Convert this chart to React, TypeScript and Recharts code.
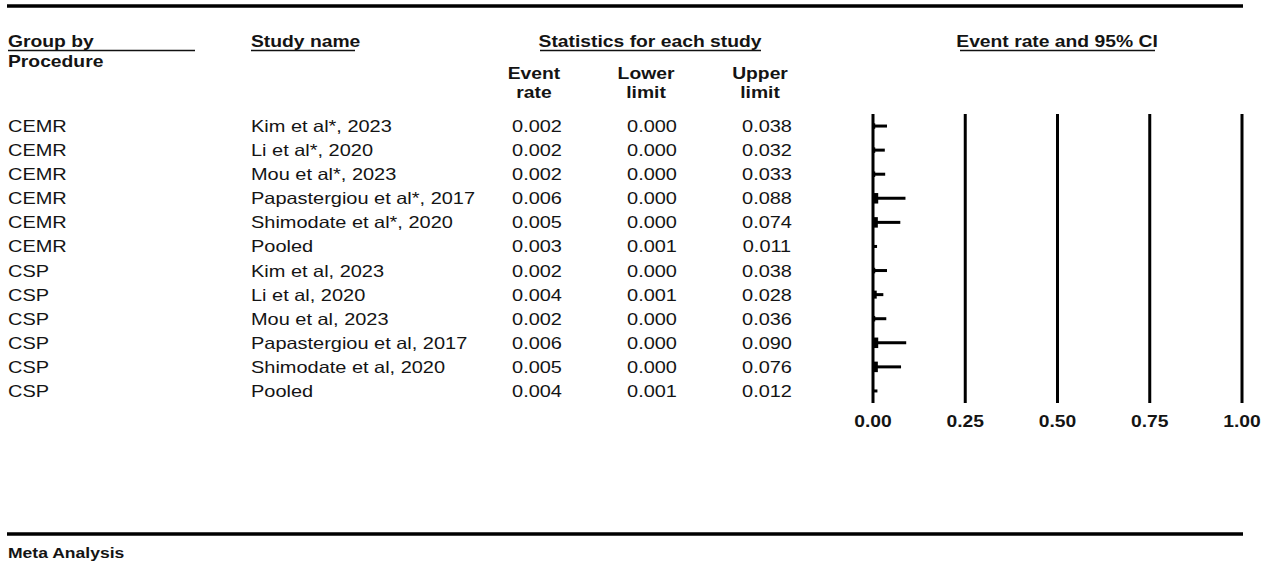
import React from "react";
import { ScatterChart, XAxis, YAxis, Scatter, ReferenceLine } from "recharts";

const groups = ["CEMR", "CEMR", "CEMR", "CEMR", "CEMR", "CEMR", "CSP", "CSP", "CSP", "CSP", "CSP", "CSP"];
const studies = [
  "Kim et al*, 2023",
  "Li et al*, 2020",
  "Mou et al*, 2023",
  "Papastergiou et al*, 2017",
  "Shimodate et al*, 2020",
  "Pooled",
  "Kim et al, 2023",
  "Li et al, 2020",
  "Mou et al, 2023",
  "Papastergiou et al, 2017",
  "Shimodate et al, 2020",
  "Pooled",
];
const eventRate = [0.002, 0.002, 0.002, 0.006, 0.005, 0.003, 0.002, 0.004, 0.002, 0.006, 0.005, 0.004];
const lowerLimit = [0.0, 0.0, 0.0, 0.0, 0.0, 0.001, 0.0, 0.001, 0.0, 0.0, 0.0, 0.001];
const upperLimit = [0.038, 0.032, 0.033, 0.088, 0.074, 0.011, 0.038, 0.028, 0.036, 0.09, 0.076, 0.012];
const relWeight = [1, 1, 1, 3, 3, 0, 1, 2, 1, 3, 3, 0];
const xTicks = [0, 0.25, 0.5, 0.75, 1];

const rowIdx = studies.map((_, i) => i);
const points = rowIdx.map((i) => ({ x: eventRate[i], y: i, w: relWeight[i] }));

const FONT = "'Liberation Sans', Arial, Helvetica, sans-serif";

const T = ({ x, y, anchor = "start", bold = false, size = 16.5, children }: any) => (
  <text
    transform={`translate(${x},${y}) scale(${bold ? 1.17 : 1.21},1)`}
    textAnchor={anchor}
    fontFamily={FONT}
    fontSize={size}
    fontWeight={bold ? 700 : 400}
    fill="#141414"
  >
    {children}
  </text>
);

const COL_GROUP = 8;
const COL_STUDY = 251;
const COL_RATE = 537;
const COL_LOW = 652;
const COL_UP = 767;

const RowTick = (props: any) => {
  const { y, payload } = props;
  const i = payload.value as number;
  if (i < 0 || i >= studies.length) return <g />;
  const by = y + 6;
  return (
    <g>
      <T x={COL_GROUP} y={by}>{groups[i]}</T>
      <T x={COL_STUDY} y={by}>{studies[i]}</T>
      <T x={COL_RATE} y={by} anchor="middle">{eventRate[i].toFixed(3)}</T>
      <T x={COL_LOW} y={by} anchor="middle">{lowerLimit[i].toFixed(3)}</T>
      <T x={COL_UP} y={by} anchor="middle">{upperLimit[i].toFixed(3)}</T>
    </g>
  );
};

const XTick = (props: any) => {
  const { x, y, payload } = props;
  return (
    <T x={x} y={y + 15.5} anchor="middle" bold>
      {Number(payload.value).toFixed(2)}
    </T>
  );
};

const Marker = (props: any) => {
  const { cx, cy, payload } = props;
  const w = payload?.w ?? 0;
  if (!w) return <g />;
  const h = 3 + w * 2.5;
  const wd = 1.5 + w * 1.5;
  return <rect x={cx - wd / 2} y={cy - h / 2} width={wd} height={h} fill="#000" />;
};

export default function App() {
  return (
    <div style={{ position: "absolute", left: 0, top: 0, width: 1272, height: 567, background: "#fff" }}>
      <ScatterChart
        width={1272}
        height={567}
        margin={{ top: 114, right: 30, bottom: 134, left: 813 }}
        style={{ position: "absolute", left: 0, top: 0 }}
      >
        <XAxis
          type="number"
          dataKey="x"
          domain={[0, 1]}
          ticks={xTicks}
          interval={0}
          axisLine={false}
          tickLine={false}
          height={30}
          allowDataOverflow
          tick={(p: any) => <XTick {...p} />}
        />
        <YAxis
          type="number"
          dataKey="y"
          domain={[-0.5, 11.5]}
          ticks={rowIdx}
          interval={0}
          reversed
          allowDataOverflow
          axisLine={false}
          tickLine={false}
          width={60}
          tick={(p: any) => <RowTick {...p} />}
        />
        {xTicks.map((t) => (
          <ReferenceLine key={"v" + t} x={t} stroke="#000" strokeWidth={3} ifOverflow="visible" />
        ))}
        {rowIdx.map((i) => (
          <ReferenceLine
            key={"ci" + i}
            segment={[
              { x: lowerLimit[i], y: i },
              { x: upperLimit[i], y: i },
            ]}
            stroke="#000"
            strokeWidth={3}
            ifOverflow="visible"
          />
        ))}
        <Scatter data={points} isAnimationActive={false} shape={(p: any) => <Marker {...p} />} />
      </ScatterChart>
      <svg
        width={1272}
        height={567}
        style={{ position: "absolute", left: 0, top: 0, pointerEvents: "none" }}
      >
        <line x1={7} x2={1243} y1={6} y2={6} stroke="#000" strokeWidth={3.5} />
        <T x={8} y={47} bold>Group by</T>
        <line x1={8} x2={195} y1={50.5} y2={50.5} stroke="#111" strokeWidth={1.6} />
        <T x={8} y={67} bold>Procedure</T>
        <T x={251} y={47} bold>Study name</T>
        <line x1={251} x2={355} y1={50.5} y2={50.5} stroke="#111" strokeWidth={1.6} />
        <T x={650} y={47} bold anchor="middle">Statistics for each study</T>
        <line x1={540} x2={761} y1={50.5} y2={50.5} stroke="#111" strokeWidth={1.6} />
        <T x={1057} y={47} bold anchor="middle">Event rate and 95% CI</T>
        <line x1={960} x2={1155} y1={50.5} y2={50.5} stroke="#111" strokeWidth={1.6} />
        <T x={534} y={79} bold anchor="middle">Event</T>
        <T x={534} y={98} bold anchor="middle">rate</T>
        <T x={646} y={79} bold anchor="middle">Lower</T>
        <T x={646} y={98} bold anchor="middle">limit</T>
        <T x={760} y={79} bold anchor="middle">Upper</T>
        <T x={760} y={98} bold anchor="middle">limit</T>
        <line x1={7} x2={1243} y1={534} y2={534} stroke="#000" strokeWidth={3.5} />
        <T x={8} y={558} bold size={15}>Meta Analysis</T>
      </svg>
    </div>
  );
}
